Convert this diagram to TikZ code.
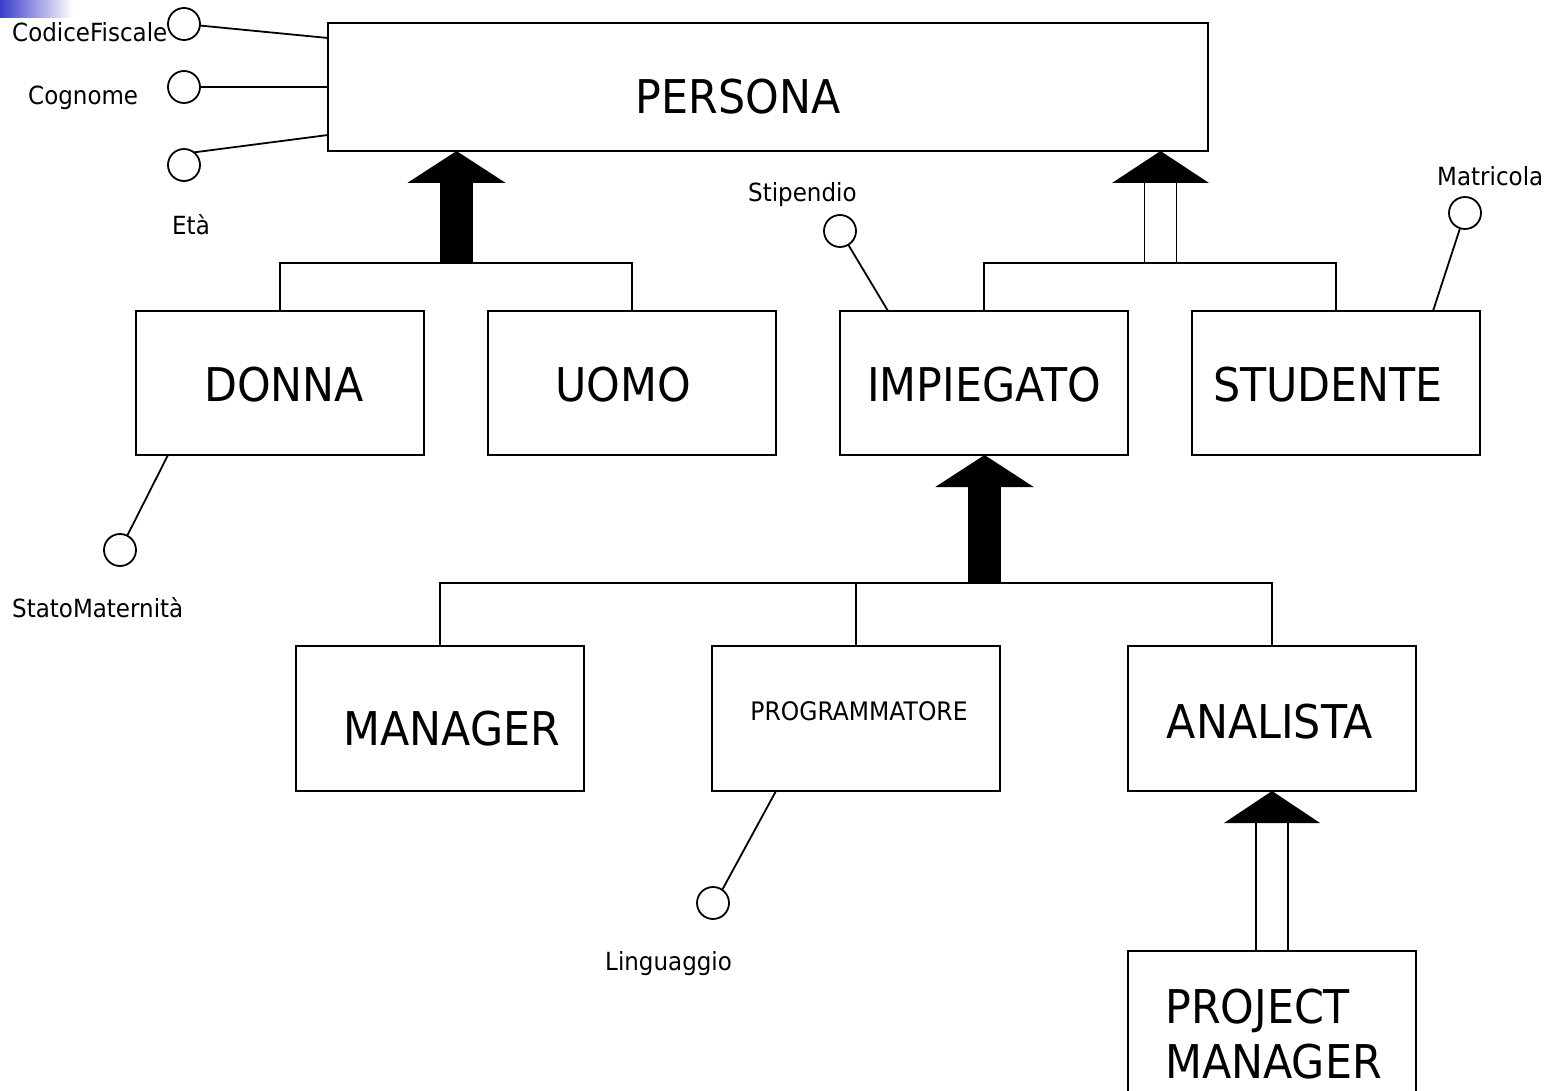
\documentclass[tikz,border=0pt]{standalone}
\usepackage{fontspec}
\setmainfont[FakeStretch=0.92]{DejaVu Sans}
\usetikzlibrary{arrows.meta,calc}
\definecolor{slidebar}{RGB}{60,60,205}
\begin{document}
\begin{tikzpicture}[x=1pt,y=-1pt,
  entity/.style={draw, line width=2.2pt, inner sep=0pt, outer sep=0pt,
                 minimum width=288pt, minimum height=145pt},
  enttext/.style={font=\fontsize{46.5}{56}\selectfont, inner sep=0pt, anchor=base},
  attrtext/.style={font=\fontsize{25}{30}\selectfont, inner sep=0pt, anchor=base west},
  attr/.style={circle, draw, line width=1.8pt, minimum size=32pt, inner sep=0pt, outer sep=0pt},
  attrlink/.style={line width=1.8pt},
  tree/.style={line width=2.2pt},
  fatisa/.style={line width=33pt, -{Triangle[width=97pt,length=32pt]}},
  isahead/.style={fill=black},
  isashaft/.style={line width=1.8pt}
]
\useasboundingbox (0,0) rectangle (1552,1091);
\clip (0,0) rectangle (1552,1091);
\fill[white] (0,0) rectangle (1552,1091);
\shade[left color=slidebar, right color=white] (0,0) rectangle (73,18);

% entities
\node[entity, minimum width=880pt, minimum height=128pt] (persona) at (768,87) {};
\node[entity, minimum height=144pt] (donna)     at (280,383) {};
\node[entity, minimum height=144pt] (uomo)      at (632,383) {};
\node[entity, minimum height=144pt] (impiegato) at (984,383) {};
\node[entity, minimum height=144pt] (studente)  at (1336,383) {};
\node[entity] (manager)       at (440,718.5) {};
\node[entity] (programmatore) at (856,718.5) {};
\node[entity] (analista)      at (1272,718.5) {};
\node[entity, minimum height=160pt] (pm) at (1272,1031) {};

% entity names
\node[enttext] (personaT)   at (738,114) {PERSONA};
\node[enttext] (donnaT)     at (284,401) {DONNA};
\node[enttext] (uomoT)      at (623,401) {UOMO};
\node[enttext] (impiegatoT) at (984,401) {IMPIEGATO};
\node[enttext] (studenteT)  at (1328,401) {STUDENTE};
\node[enttext] (managerT)   at (452,745) {MANAGER};
\node[enttext, font=\fontsize{25.5}{30}\selectfont] (programmatoreT) at (859,720) {PROGRAMMATORE};
\node[enttext] (analistaT)  at (1270,738) {ANALISTA};
\node[enttext, anchor=base west] (pmT1) at (1165,1023) {PROJECT};
\node[enttext, anchor=base west] (pmT2) at (1165,1078) {MANAGER};

% generalisation: DONNA, UOMO -> PERSONA
\coordinate (g1) at (456.5,263);
\draw[tree] (donna.north) |- (g1) -| (uomo.north);
\draw[fatisa] (g1) -- (persona.south -| g1);

% generalisation: IMPIEGATO, STUDENTE -> PERSONA
\coordinate (g2) at (1160.5,263);
\draw[tree] (impiegato.north) |- (g2) -| (studente.north);
\fill[isahead] (persona.south -| g2) -- ++(-48.5,32) -- ++(97,0) -- cycle;
\draw[isashaft] ([xshift=-16pt]g2) -- ++(0,-80);
\draw[isashaft] ([xshift=16pt]g2) -- ++(0,-80);

% generalisation: MANAGER, PROGRAMMATORE, ANALISTA -> IMPIEGATO
\coordinate (g3) at (984.5,583);
\draw[tree] (manager.north) |- (g3) -| (analista.north);
\draw[tree] (programmatore.north) -- (programmatore.north |- g3);
\draw[fatisa] (g3) -- (impiegato.south -| g3);

% subset: PROJECT MANAGER -> ANALISTA
\fill[isahead] (analista.south) -- ++(-48,32) -- ++(96,0) -- cycle;
\draw[isashaft] ([xshift=-16pt]pm.north) -- ($(analista.south)+(-16,32)$);
\draw[isashaft] ([xshift=16pt]pm.north) -- ($(analista.south)+(16,32)$);

% attributes of PERSONA
\node[attr] (cf)  at (184,24)  {};
\node[attr] (cog) at (184,87)  {};
\node[attr] (eta) at (184,165) {};
\coordinate (cfEnd)  at (328,38);
\coordinate (cogEnd) at (328,87);
\coordinate (etaEnd) at (328,135);
\draw[attrlink] (cf) -- (cfEnd);
\draw[attrlink] (cog) -- (cogEnd);
\draw[attrlink] (eta.52) -- (etaEnd);
\node[attrtext] (cfT)  at (12,42)   {CodiceFiscale};
\node[attrtext] (cogT) at (28,105)  {Cognome};
\node[attrtext] (etaT) at (172,235) {Età};

% attribute of DONNA
\node[attr] (sm) at (120,550) {};
\coordinate (smEnd) at (168,455);
\draw[attrlink] (sm) -- (smEnd);
\node[attrtext] (smT) at (12,617) {StatoMaternità};

% attribute of IMPIEGATO
\node[attr] (stip) at (840,231) {};
\coordinate (stipEnd) at (888,311);
\draw[attrlink] (stip) -- (stipEnd);
\node[attrtext] (stipT) at (748,202) {Stipendio};

% attribute of STUDENTE
\node[attr] (matr) at (1465,213) {};
\coordinate (matrEnd) at (1433,311);
\draw[attrlink] (matr) -- (matrEnd);
\node[attrtext] (matrT) at (1437,186) {Matricola};

% attribute of PROGRAMMATORE
\node[attr] (ling) at (713,903) {};
\coordinate (lingEnd) at (776,791);
\draw[attrlink] (ling.55) -- (lingEnd);
\node[attrtext] (lingT) at (605,970) {Linguaggio};
\end{tikzpicture}
\end{document}
